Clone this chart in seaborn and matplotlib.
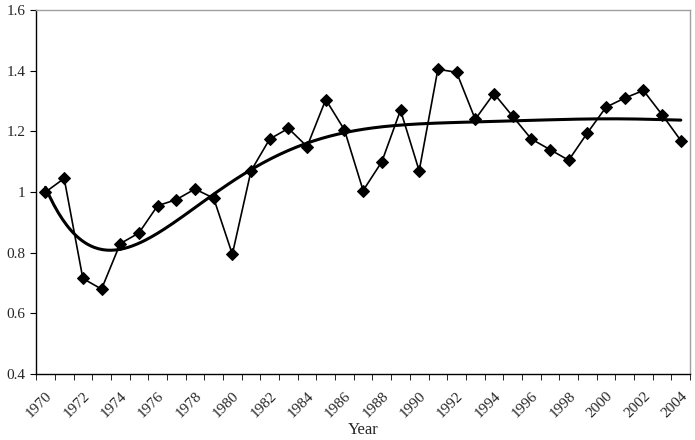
import numpy as np
import pandas as pd
import matplotlib.pyplot as plt
import seaborn as sns

years = list(range(1970, 2005))
values = [1.0, 1.045, 0.715, 0.68, 0.83, 0.865, 0.955, 0.975, 1.01, 0.98,
          0.795, 1.07, 1.175, 1.21, 1.15, 1.305, 1.205, 1.005, 1.1, 1.27,
          1.07, 1.405, 1.395, 1.24, 1.325, 1.25, 1.175, 1.14, 1.105, 1.195,
          1.28, 1.31, 1.335, 1.255, 1.17]
tick_years = list(range(1970, 2005, 2))

df = pd.DataFrame({"Year": years, "value": values})

# 6th order polynomial trend line, like the spreadsheet one
t = df["Year"] - 1970
coef = np.polyfit(t, df["value"], 6)
xs = np.linspace(0, 34, 300)
trend = pd.DataFrame({"Year": xs + 1970, "value": np.polyval(coef, xs)})

sns.set_style("white")
plt.rcParams['font.family'] = ['Liberation Serif', 'DejaVu Serif']

fig = plt.figure(figsize=(6.95, 4.4), dpi=100)
ax = fig.add_axes([0.052, 0.15, 0.941, 0.827])

sns.lineplot(data=df, x="Year", y="value", ax=ax, color="black", lw=1.2,
             marker="D", markersize=6, markeredgecolor="black")
sns.lineplot(data=trend, x="Year", y="value", ax=ax, color="black", lw=2.2)

ax.set_xlim(1969.5, 2004.5)
ax.set_ylim(0.4, 1.6)
ax.set_yticks([0.4, 0.6, 0.8, 1.0, 1.2, 1.4, 1.6])
ax.set_yticklabels(["0.4", "0.6", "0.8", "1", "1.2", "1.4", "1.6"])
ax.set_xticks(tick_years)
ax.set_xticklabels([str(y) for y in tick_years], rotation=45, ha="right",
                   rotation_mode="anchor")
ax.set_xticks(np.arange(1969.5, 2005, 1), minor=True)
ax.tick_params(axis="x", which="major", length=0, pad=11, labelsize=11)
ax.tick_params(axis="x", which="minor", length=4, color="black", direction="out", bottom=True)
ax.tick_params(axis="y", length=4, color="black", direction="out", left=True, labelsize=11)
ax.set_xlabel("Year", fontsize=12, va="center")
ax.xaxis.set_label_coords(0.5, -0.155)
ax.set_ylabel("")

for s in ["top", "right"]:
    ax.spines[s].set_color("#a0a0a0")
    ax.spines[s].set_linewidth(1.0)
for s in ["left", "bottom"]:
    ax.spines[s].set_color("black")
    ax.spines[s].set_linewidth(1.0)

fig.savefig("out.png", dpi=100)
